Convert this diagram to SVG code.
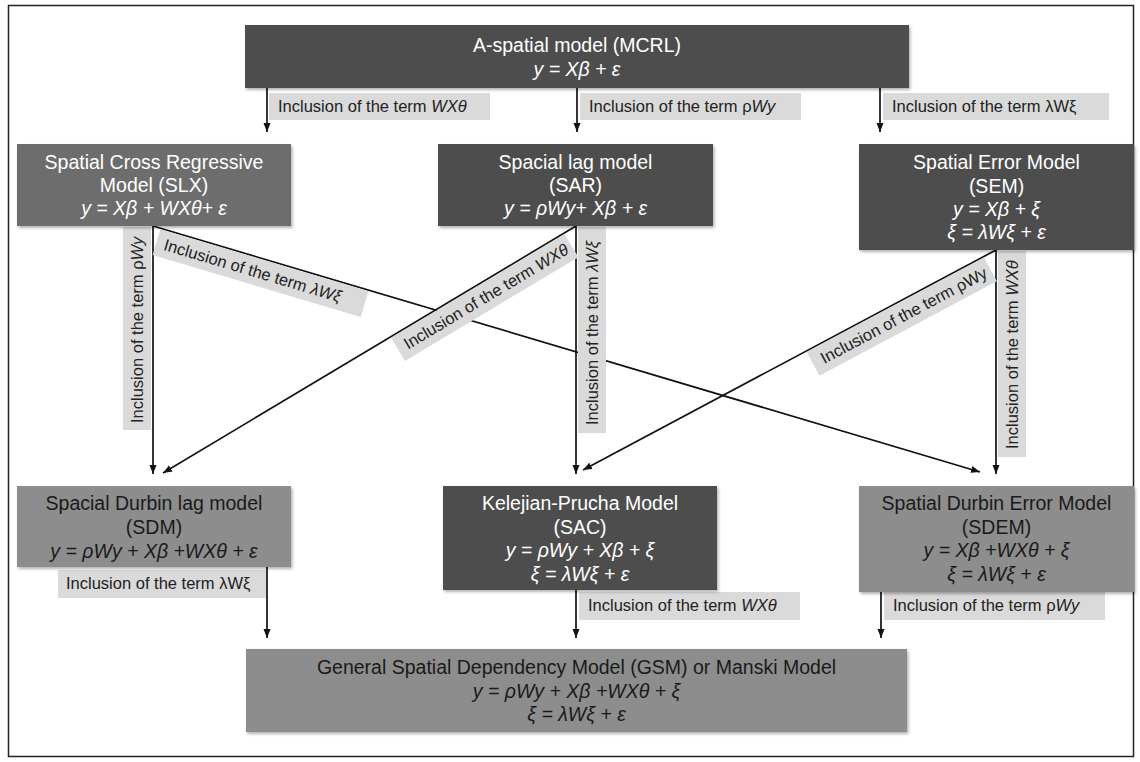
<svg xmlns="http://www.w3.org/2000/svg" width="1140" height="762" viewBox="0 0 1140 762">
<style>
text{font-family:"Liberation Sans",Arial,sans-serif}
.node rect{filter:url(#sh)}
.dark{fill:#4e4e4e}
.mid{fill:#6d6d6d}
.light{fill:#8d8d8d}
.tw{fill:#ffffff;font-size:19.5px;text-anchor:middle}
.tb{fill:#1a1a1a;font-size:19.5px;text-anchor:middle}
.f{font-style:italic}
.conn line{stroke:#111;stroke-width:1.7;fill:none}
.arr{marker-end:url(#ah)}
.lbl rect{fill:#dadada}
.lbl text{font-size:16.5px;fill:#222}
.i{font-style:italic}
</style>
<defs>
<filter id="sh" x="-5%" y="-5%" width="112%" height="120%">
<feDropShadow dx="1.5" dy="2" stdDeviation="1.5" flood-color="#000" flood-opacity="0.3"/>
</filter>
<marker id="ah" markerWidth="10" markerHeight="8" refX="9" refY="4" orient="auto" markerUnits="userSpaceOnUse">
<path d="M0,0.5 L9,4 L0,7.5 z" fill="#111"/>
</marker>
</defs>
<rect x="8.5" y="5.5" width="1125" height="751" fill="#fff" stroke="#222" stroke-width="1.5"/>

<g class="conn" id="connectors">
<line class="arr" x1="267" y1="88" x2="267" y2="132"/>
<line class="arr" x1="577" y1="88" x2="577" y2="132"/>
<line class="arr" x1="880" y1="88" x2="880" y2="132"/>
<line class="arr" x1="153" y1="226" x2="153" y2="474"/>
<line class="arr" x1="153" y1="226" x2="980" y2="472"/>
<line class="arr" x1="576" y1="226" x2="163" y2="473"/>
<line class="arr" x1="576" y1="226" x2="576" y2="474"/>
<line class="arr" x1="996" y1="250" x2="583" y2="470"/>
<line class="arr" x1="996" y1="250" x2="996" y2="474"/>
<line class="arr" x1="267" y1="567" x2="267" y2="638"/>
<line class="arr" x1="576" y1="590" x2="576" y2="638"/>
<line class="arr" x1="881" y1="592" x2="881" y2="638"/>
</g>

<g class="lbl" id="edge-labels" xml:space="preserve">
<rect x="269" y="93" width="221" height="27"/>
<text x="278" y="112">Inclusion  of the term <tspan class="i">WXθ</tspan></text>
<rect x="580" y="93" width="221" height="27"/>
<text x="589" y="112">Inclusion  of the term ρ<tspan class="i">Wy</tspan></text>
<rect x="883" y="93" width="226" height="27"/>
<text x="892" y="112">Inclusion  of the term λWξ</text>

<rect x="123" y="227" width="28" height="203"/>
<text transform="translate(143,423) rotate(-90)">Inclusion  of the term ρ<tspan class="i">Wy</tspan></text>
<rect x="578" y="227" width="28" height="206"/>
<text transform="translate(598,425) rotate(-90)">Inclusion  of the term <tspan class="i">λWξ</tspan></text>
<rect x="998" y="251" width="28" height="206"/>
<text transform="translate(1018,449) rotate(-90)">Inclusion  of the term <tspan class="i">WXθ</tspan></text>

<g transform="translate(153,226) rotate(16.57)">
<rect x="8" y="1" width="217" height="27"/>
<text x="16" y="20">Inclusion  of the term  <tspan class="i">λWξ</tspan></text>
</g>
<g transform="translate(576,226) rotate(-30.88)">
<rect x="-216" y="1" width="202" height="27"/>
<text x="-19" y="20" text-anchor="end">Inclusion  of the term <tspan class="i">WXθ</tspan></text>
</g>
<g transform="translate(996,250) rotate(-28.05)">
<rect x="-215" y="1" width="201" height="27"/>
<text x="-19" y="20" text-anchor="end">Inclusion  of the term ρWy</text>
</g>

<rect x="58" y="570" width="208" height="28"/>
<text x="66" y="589">Inclusion  of the term λWξ</text>
<rect x="579" y="592" width="221" height="28"/>
<text x="588" y="611">Inclusion  of the term <tspan class="i">WXθ</tspan></text>
<rect x="884" y="592" width="221" height="28"/>
<text x="893" y="611">Inclusion  of the term ρ<tspan class="i">Wy</tspan></text>
</g>

<g class="node" id="MCRL">
<rect class="dark" x="245" y="25" width="664" height="63"/>
<text class="tw" x="577" y="52">A-spatial model (MCRL)</text>
<text class="tw f" x="577" y="76">y = Xβ + ε</text>
</g>
<g class="node" id="SLX">
<rect class="mid" x="17" y="144" width="274" height="82"/>
<text class="tw" x="154" y="169">Spatial Cross Regressive</text>
<text class="tw" x="154" y="192">Model (SLX)</text>
<text class="tw f" x="154" y="215">y = Xβ + WXθ+ ε</text>
</g>
<g class="node" id="SAR">
<rect class="dark" x="438" y="144" width="275" height="82"/>
<text class="tw" x="575.5" y="169">Spacial lag model</text>
<text class="tw" x="575.5" y="192">(SAR)</text>
<text class="tw f" x="575.5" y="215">y = ρWy+ Xβ + ε</text>
</g>
<g class="node" id="SEM">
<rect class="dark" x="859" y="144" width="275" height="106"/>
<text class="tw" x="996.5" y="169">Spatial Error Model</text>
<text class="tw" x="996.5" y="193">(SEM)</text>
<text class="tw f" x="996.5" y="216">y = Xβ + ξ</text>
<text class="tw f" x="996.5" y="239">ξ = λWξ + ε</text>
</g>
<g class="node" id="SDM">
<rect class="light" x="17" y="486" width="274" height="81"/>
<text class="tb" x="154" y="510">Spacial Durbin lag model</text>
<text class="tb" x="154" y="534">(SDM)</text>
<text class="tb f" x="154" y="558">y = ρWy + Xβ +WXθ + ε</text>
</g>
<g class="node" id="SAC">
<rect class="dark" x="443" y="486" width="274" height="104"/>
<text class="tw" x="580" y="510">Kelejian-Prucha Model</text>
<text class="tw" x="580" y="534">(SAC)</text>
<text class="tw f" x="580" y="557">y = ρWy + Xβ + ξ</text>
<text class="tw f" x="580" y="581">ξ = λWξ + ε</text>
</g>
<g class="node" id="SDEM">
<rect class="light" x="859" y="486" width="275" height="106"/>
<text class="tb" x="996.5" y="510">Spatial Durbin Error Model</text>
<text class="tb" x="996.5" y="534">(SDEM)</text>
<text class="tb f" x="996.5" y="557">y = Xβ +WXθ + ξ</text>
<text class="tb f" x="996.5" y="581">ξ = λWξ + ε</text>
</g>
<g class="node" id="GSM">
<rect class="light" x="246" y="649" width="661" height="83"/>
<text class="tb" x="576.5" y="674">General Spatial Dependency Model (GSM) or Manski Model</text>
<text class="tb f" x="576.5" y="698">y = ρWy + Xβ +WXθ + ξ</text>
<text class="tb f" x="576.5" y="721">ξ = λWξ + ε</text>
</g>
</svg>
